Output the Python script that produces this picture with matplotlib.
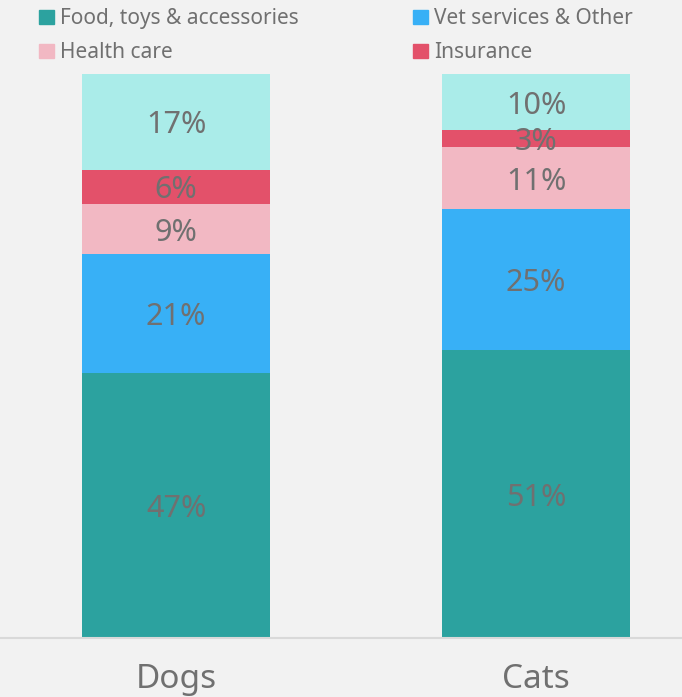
import matplotlib.pyplot as plt
from matplotlib.patches import Patch

pets = ['Dogs', 'Cats']
segments = ['Food, toys & accessories', 'Vet services & Other', 'Health care', 'Insurance', 'Other']
food = [47, 51]
vet = [21, 25]
health = [9, 11]
insurance = [6, 3]
other = [17, 10]

colors = ['#2ca29f', '#38b0f6', '#f2b8c3', '#e3516a', '#aaece9']
bg = '#f2f2f2'
txt = '#707070'

plt.rcParams['font.family'] = ['Noto Sans', 'DejaVu Sans']

fig = plt.figure(figsize=(6.82, 6.97), dpi=100, facecolor=bg)
ax = fig.add_axes([0, 59 / 697, 1, 564 / 697])
ax.set_facecolor(bg)

x = [0, 1]
bottom = [0, 0]
for vals, col in zip([food, vet, health, insurance, other], colors):
    bars = ax.bar(x, vals, width=0.522, bottom=bottom, color=col)
    for b, v, y0 in zip(bars, vals, bottom):
        ax.text(b.get_x() + b.get_width() / 2, y0 + v / 2, f'{v}%',
                ha='center', va='center_baseline', fontsize=22, color=txt, fontweight='light')
    bottom = [a + b for a, b in zip(bottom, vals)]

ax.set_xlim(-0.489, 1.405)
ax.set_ylim(0, 100)
ax.set_yticks([])
ax.set_xticks(x)
ax.set_xticklabels(pets, fontsize=24, color=txt, fontweight='light')
ax.tick_params(axis='x', length=0, pad=18)
for s in ['top', 'left', 'right']:
    ax.spines[s].set_visible(False)
ax.spines['bottom'].set_color('#d9d9d9')
ax.spines['bottom'].set_linewidth(1.5)

# legend fills column by column, so order entries to read across rows
order = [0, 2, 1, 3]
handles = [Patch(color=colors[i]) for i in order]
labels = [segments[i] for i in order]
fig.legend(handles, labels, ncol=2, loc='upper left', bbox_to_anchor=(0.03, 1.015),
           frameon=False, labelcolor=txt, handlelength=0.7, handleheight=0.7,
           handletextpad=0.3, columnspacing=5.5, labelspacing=0.62,
           prop={'weight': 'light', 'size': 15})

fig.savefig('out.png', dpi=100, facecolor=bg)
